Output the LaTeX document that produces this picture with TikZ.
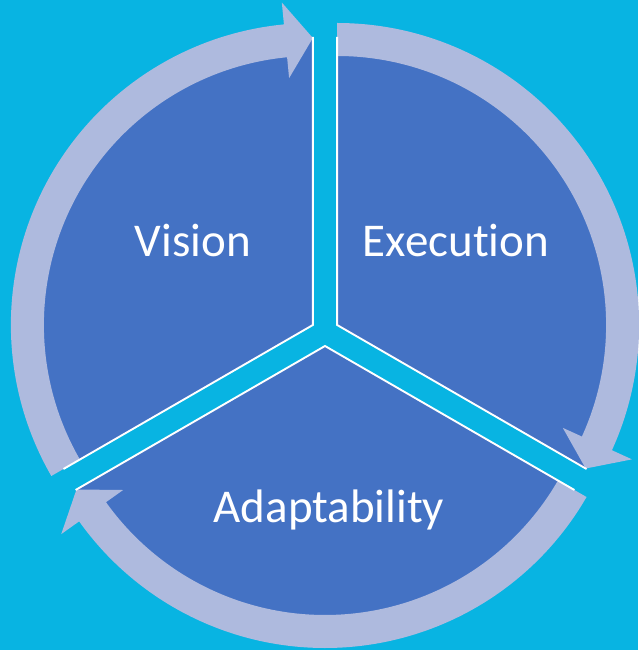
\documentclass[tikz,border=0pt]{standalone}
\usepackage{fontspec}
\setmainfont{Carlito}[Ligatures=NoCommon]
\usepackage{tikz}
\definecolor{fond}{RGB}{8,180,226}
\definecolor{bleu}{RGB}{68,114,196}
\definecolor{anneau}{RGB}{174,186,222}

\begin{document}
\begin{tikzpicture}[x=1pt,y=1pt]
	% STYLES
	\tikzstyle{secteur} = [fill=bleu]
	\tikzstyle{bord} = [line width=1.9pt, draw=white]
	\tikzstyle{fleche} = [fill=anneau]

	\tikzstyle{etiquette} = [anchor=base, text=white, font=\fontsize{47}{56}\selectfont]

	% FOND
	\useasboundingbox (-325,-318) rectangle (313,332);
	\path[fill=fond] (-325,-318) rectangle (313,332);

	% SECTEURS
	\foreach \b in {150,30,270} {
		\begin{scope}[shift={(\b:14)}]
			\path[secteur] (0,0) -- (\b-60:288) arc[start angle=\b-60, end angle=\b+60, radius=288] -- cycle;
		\end{scope}
	}

	% ANNEAU
	\foreach \b in {150,30,270} {
		\begin{scope}[shift={(\b:14)}]
			\path[fleche]
				(\b+60:302) arc[start angle=\b+60, end angle=\b-54.5, radius=302]
				-- (\b-54.5:324)
				-- (\b-60:287)
				-- (\b-54.5:248)
				-- (\b-54.5:269) arc[start angle=\b-54.5, end angle=\b+60, radius=269]
				-- cycle
			;
		\end{scope}
	}

	% BORDS
	\foreach \b in {150,30,270} {
		\begin{scope}[shift={(\b:14)}]
			\path[bord] (\b-60:288) -- (0,0) -- (\b+60:288);
		\end{scope}
	}

	% NOEUDS
	\node[etiquette] at (-132, 75) (V) {Vision};
	\node[etiquette] at (131, 75) (E) {Execution};
	\node[etiquette] at (4, -190) (A) {Adaptability};
\end{tikzpicture}
\end{document}
